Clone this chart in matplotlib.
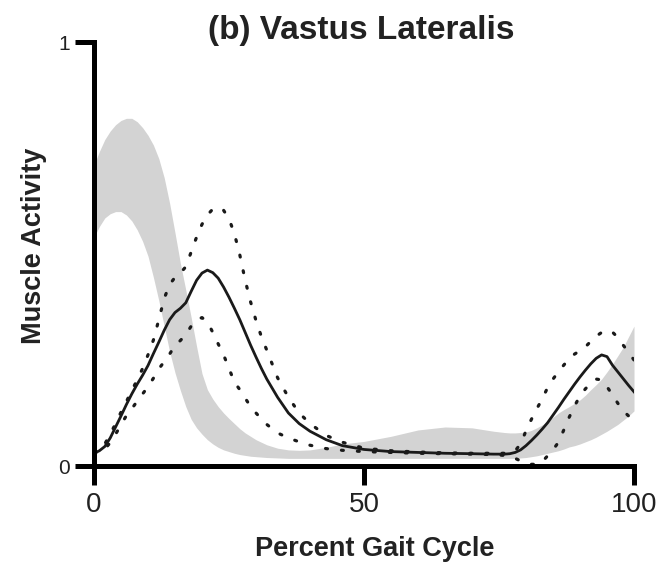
import numpy as np
import matplotlib
matplotlib.use("Agg")
import matplotlib.pyplot as plt

plt.rcParams["font.family"] = ["Liberation Sans", "DejaVu Sans"]

pct = (list(range(0, 33))
       + [34, 36, 38, 40, 43, 46, 50, 55, 60, 65, 70, 74, 76]
       + list(range(77, 101)))

# mean activity (solid line)
mean_act = [0.030, 0.036, 0.046, 0.066, 0.092, 0.118, 0.145, 0.170, 0.193, 0.214,
            0.237, 0.265, 0.292, 0.320, 0.345, 0.362, 0.372, 0.385, 0.412, 0.438,
            0.455, 0.462, 0.456, 0.443, 0.422, 0.398, 0.372, 0.345, 0.315, 0.285,
            0.257, 0.230, 0.205,
            0.162, 0.125, 0.100, 0.082, 0.062, 0.048, 0.039, 0.034, 0.032, 0.030,
            0.029, 0.028, 0.028,
            0.029, 0.032, 0.038, 0.048, 0.060, 0.073, 0.087, 0.102, 0.120, 0.138,
            0.157, 0.175, 0.193, 0.210, 0.226, 0.241, 0.254, 0.262, 0.258, 0.238,
            0.222, 0.206, 0.190, 0.175]

# mean + 1 SD (dotted)
upper_sd = [0.030, 0.038, 0.052, 0.075, 0.100, 0.127, 0.152, 0.178, 0.203, 0.230,
            0.262, 0.297, 0.345, 0.395, 0.428, 0.445, 0.455, 0.470, 0.505, 0.540,
            0.570, 0.592, 0.606, 0.610, 0.603, 0.583, 0.548, 0.498, 0.438, 0.387,
            0.343, 0.305, 0.273,
            0.208, 0.162, 0.125, 0.100, 0.072, 0.056, 0.042, 0.036, 0.033, 0.031,
            0.030, 0.030, 0.030,
            0.031, 0.036, 0.052, 0.083, 0.110, 0.135, 0.158, 0.185, 0.205, 0.222,
            0.238, 0.253, 0.264, 0.272, 0.281, 0.294, 0.306, 0.315, 0.320, 0.316,
            0.303, 0.285, 0.268, 0.250]

# mean - 1 SD (dotted)
lower_sd = [0.030, 0.033, 0.040, 0.055, 0.075, 0.097, 0.119, 0.135, 0.153, 0.170,
            0.187, 0.207, 0.229, 0.246, 0.264, 0.284, 0.296, 0.310, 0.330, 0.345,
            0.350, 0.340, 0.315, 0.288, 0.262, 0.230, 0.198, 0.180, 0.160, 0.140,
            0.125, 0.111, 0.098,
            0.078, 0.066, 0.057, 0.049, 0.041, 0.037, 0.034, 0.032, 0.030, 0.029,
            0.028, 0.027, 0.025,
            0.022, 0.018, 0.012, 0.007, 0.004, 0.004, 0.010, 0.024, 0.038, 0.056,
            0.085, 0.115, 0.142, 0.165, 0.182, 0.195, 0.205, 0.203, 0.187, 0.168,
            0.148, 0.130, 0.118, 0.110]

# normal reference band (gray)
band_hi = [0.710, 0.742, 0.770, 0.790, 0.805, 0.815, 0.820, 0.820, 0.812, 0.798,
           0.780, 0.757, 0.725, 0.680, 0.620, 0.550, 0.478, 0.415, 0.350, 0.282,
           0.218, 0.180, 0.158, 0.140, 0.125, 0.112, 0.100, 0.088, 0.078, 0.070,
           0.062, 0.056, 0.050,
           0.042, 0.038, 0.037, 0.038, 0.044, 0.052, 0.058, 0.070, 0.085, 0.092,
           0.090, 0.082, 0.079,
           0.078, 0.078, 0.079, 0.080, 0.084, 0.090, 0.097, 0.105, 0.115, 0.125,
           0.133, 0.140, 0.148, 0.156, 0.167, 0.180, 0.192, 0.205, 0.222, 0.240,
           0.260, 0.280, 0.305, 0.330]
band_lo = [0.540, 0.565, 0.585, 0.595, 0.600, 0.600, 0.592, 0.578, 0.557, 0.530,
           0.495, 0.445, 0.390, 0.330, 0.270, 0.220, 0.178, 0.140, 0.110, 0.090,
           0.075, 0.062, 0.052, 0.044, 0.038, 0.034, 0.030, 0.027, 0.025, 0.023,
           0.022, 0.021, 0.020,
           0.019, 0.018, 0.018, 0.018, 0.018, 0.018, 0.018, 0.018, 0.018, 0.018,
           0.018, 0.018, 0.018,
           0.018, 0.018, 0.019, 0.020, 0.022, 0.024, 0.027, 0.030, 0.033, 0.036,
           0.040, 0.045, 0.048, 0.052, 0.057, 0.062, 0.068, 0.075, 0.082, 0.090,
           0.098, 0.108, 0.118, 0.130]

fig = plt.figure(figsize=(6.64, 5.63), dpi=100)
ax = fig.add_axes([94 / 664, 1 - 466 / 563, 540 / 664, 424 / 563])

ax.fill_between(pct, band_lo, band_hi, color="#d3d3d3", lw=0, zorder=1)
ax.plot(pct, mean_act, color="#1a1a1a", lw=2.0, zorder=3)
for sd in (upper_sd, lower_sd):
    ax.plot(pct, sd, color="#1a1a1a", lw=2.3, ls=(0, (0.6, 4.4)),
            dash_capstyle="round", zorder=3)

ax.set_xlim(0, 100)
ax.set_ylim(0, 1)
for s in ("top", "right"):
    ax.spines[s].set_visible(False)
for s in ("left", "bottom"):
    ax.spines[s].set_linewidth(3.6)
    ax.spines[s].set_zorder(4)

ax.set_xticks([0, 50, 100])
ax.set_yticks([0, 1])
ax.tick_params(direction="out", length=13.5, width=3.6, color="black")
ax.tick_params(axis="x", labelsize=20, pad=5, labelcolor="#222222")
ax.tick_params(axis="y", labelsize=15, pad=4, labelcolor="#222222")

ax.text(0.495, 1.027, "(b) Vastus Lateralis", transform=ax.transAxes,
        ha="center", va="center", fontsize=24, fontweight="bold", color="#222222")
ax.text(0.519, -0.196, "Percent Gait Cycle", transform=ax.transAxes,
        ha="center", va="center", fontsize=19.5, fontweight="bold", color="#222222")
ax.text(-0.111, 0.52, "Muscle Activity", transform=ax.transAxes, rotation=90,
        ha="center", va="center", fontsize=19.5, fontweight="bold", color="#222222")

fig.savefig("out.png", dpi=100)
